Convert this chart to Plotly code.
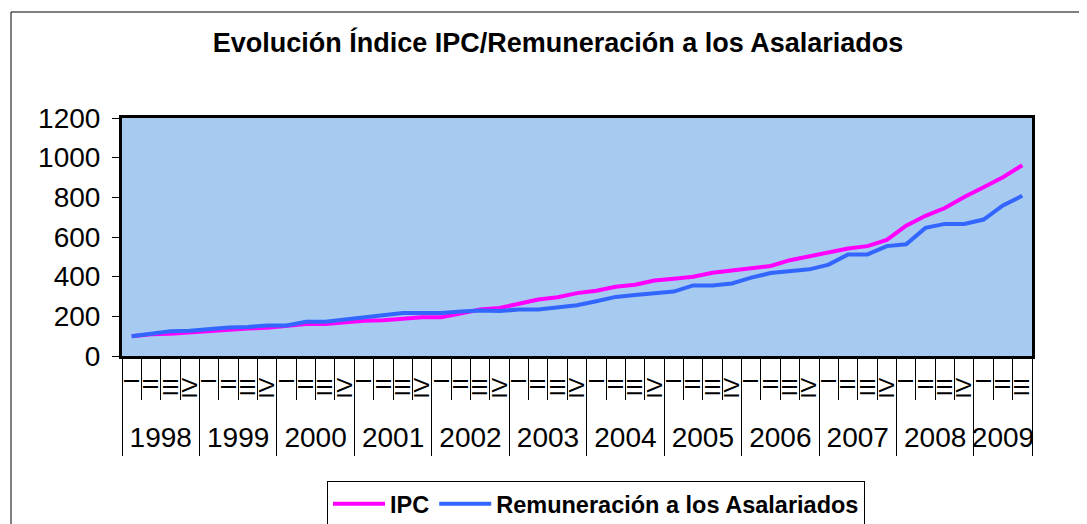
import plotly.graph_objects as go

years = ['1998'] * 4 + ['1999'] * 4 + ['2000'] * 4 + ['2001'] * 4 + ['2002'] * 4 + ['2003'] * 4 + \
        ['2004'] * 4 + ['2005'] * 4 + ['2006'] * 4 + ['2007'] * 4 + ['2008'] * 4 + ['2009'] * 3
quarters = ['I', 'II', 'III', 'IV'] * 11 + ['I', 'II', 'III']

ipc = [100, 110, 112, 119, 129, 132, 139, 142, 149, 161, 161, 169,
       178, 180, 188, 195, 195, 217, 234, 242, 263, 285, 296, 317,
       329, 349, 359, 381, 390, 400, 420, 430, 441, 454, 483, 502,
       525, 542, 554, 585, 657, 707, 746, 802, 851, 901, 962]
remuneracion = [100, 115, 125, 127, 135, 144, 146, 154, 154, 173, 173, 183,
                195, 205, 217, 217, 217, 224, 229, 227, 234, 234, 246, 256,
                276, 298, 308, 315, 325, 356, 356, 366, 395, 418, 429, 437,
                461, 512, 512, 554, 563, 646, 666, 666, 688, 759, 808]

y_ticks = [0, 200, 400, 600, 800, 1000, 1200]

FONT = "Liberation Sans, Arial, sans-serif"

# category positions derived from the data
n = len(quarters)
idx = list(range(n))
q_bounds = [i - 0.5 for i in idx] + [n - 0.5]
year_labels = []
year_centers = []
year_bounds = []
for i, yv in enumerate(years):
    if i == 0 or years[i - 1] != yv:
        year_labels.append(yv)
        year_bounds.append(i - 0.5)
        members = [j for j, z in enumerate(years) if z == yv]
        year_centers.append(sum(members) / len(members))
year_bounds.append(n - 0.5)

# page body has an 8px margin; work in screen pixels and convert
OFF = 8
W, H = 1087 - OFF, 524 - OFF
PL, PR, PT, PB = 122, 1032, 118, 356  # plot area in screen px
L, R, T, B = PL - OFF, W - (PR - OFF), PT - OFF, H - (PB - OFF)
pw, ph = PR - PL, PB - PT


def px_x(p):
    return (p - PL) / pw


def px_y(p):
    return (PB - p) / ph


fig = go.Figure()
fig.add_trace(go.Scatter(x=idx, y=ipc, mode='lines', name='IPC',
                         line=dict(color='#FF00FF', width=4)))
fig.add_trace(go.Scatter(x=idx, y=remuneracion, mode='lines',
                         name='Remuneración a los Asalariados',
                         line=dict(color='#3366FF', width=4)))
# carrier trace so the year axis (x2) is drawn; it has no visible marks
fig.add_trace(go.Scatter(x=year_centers, y=[None] * len(year_centers), xaxis='x2', yaxis='y',
                         mode='lines', showlegend=False, hoverinfo='skip'))

xrange = [-0.5, n - 0.5]

fig.update_layout(
    width=W, height=H,
    margin=dict(l=L, r=R, t=T, b=B, pad=0, autoexpand=False),
    paper_bgcolor='white',
    plot_bgcolor='#A6CAF0',
    font=dict(family=FONT, color='black'),
    title=dict(text='Evolución Índice IPC/Remuneración a los Asalariados',
               x=(558 - OFF) / W, xanchor='center', y=1 - (43 - OFF) / H, yanchor='middle',
               font=dict(size=27, weight='bold', family=FONT, color='black')),
    showlegend=True,
    legend=dict(orientation='h', x=px_x(596), xanchor='center', y=px_y(481), yanchor='top',
                bordercolor='black', borderwidth=1, bgcolor='white', itemwidth=52,
                font=dict(size=23.5, weight='bold', family=FONT, color='black')),
    xaxis=dict(range=xrange, showgrid=False, zeroline=False,
               showline=True, mirror=True, linecolor='black', linewidth=3,
               tickmode='array', tickvals=idx, ticktext=quarters,
               ticks='', ticklabelstandoff=10,
               tickangle=-90, tickfont=dict(size=22, family=FONT, color='black'),
               minor=dict(tickmode='array', tickvals=q_bounds, ticks='outside', ticklen=41,
                          tickcolor='black', tickwidth=1, showgrid=False)),
    xaxis2=dict(range=xrange, overlaying='x', anchor='y', side='bottom',
                showgrid=False, zeroline=False, showline=False,
                tickmode='array', tickvals=year_centers, ticktext=year_labels,
                ticks='', ticklabelstandoff=62,
                tickfont=dict(size=28, family=FONT, color='black'),
                minor=dict(tickmode='array', tickvals=year_bounds, ticks='outside', ticklen=99,
                           tickcolor='black', tickwidth=1, showgrid=False)),
    yaxis=dict(range=[0, 1200], tickvals=y_ticks, showgrid=False, zeroline=False,
               showline=True, mirror=True, linecolor='black', linewidth=3,
               ticks='outside', ticklen=7, tickcolor='black', tickwidth=1,
               ticklabelstandoff=6,
               tickfont=dict(size=28, family=FONT, color='black')),
    shapes=[dict(type='rect', xref='paper', yref='paper',
                 x0=px_x(11), x1=px_x(1100), y0=px_y(540), y1=px_y(12),
                 line=dict(color='black', width=1), fillcolor='rgba(0,0,0,0)', layer='below')],
)

fig.write_html('out.html')
